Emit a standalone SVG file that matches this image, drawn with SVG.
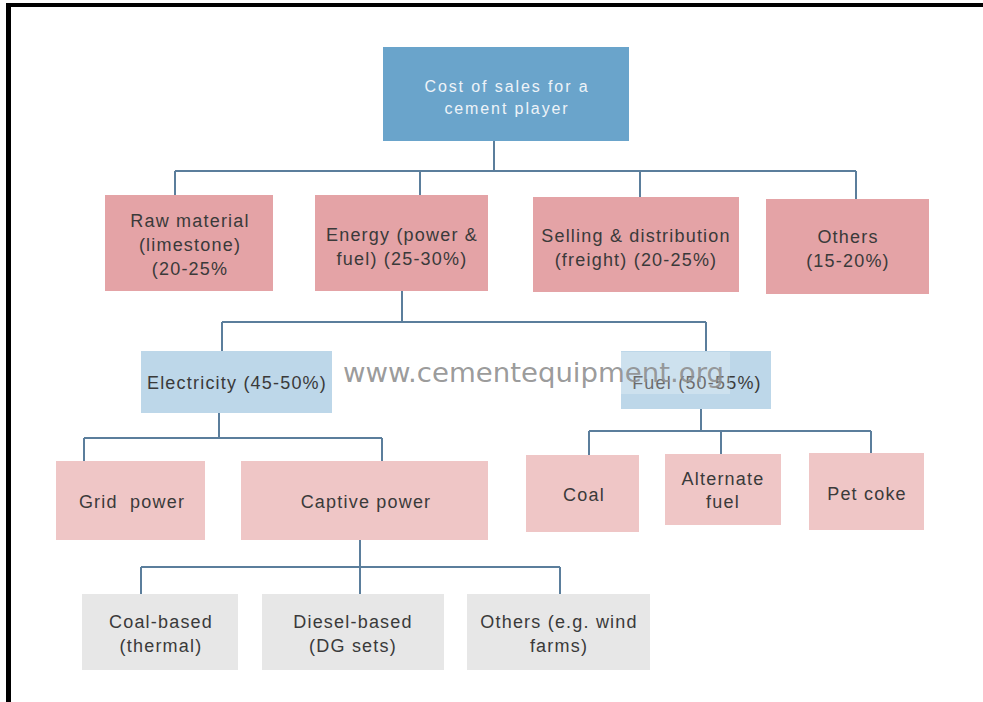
<svg xmlns="http://www.w3.org/2000/svg" width="983" height="702" viewBox="0 0 983 702">
<style>
.t{font-family:"Liberation Sans",Arial,sans-serif;font-size:18px;letter-spacing:1.2px;fill:#3a3a3a;text-anchor:middle}
.w{fill:#eef3f8;font-size:16px;letter-spacing:1.9px}
.l1{fill:#e4a3a6}
.l3{fill:#efc6c6}
.bl{fill:#bdd7e9}
.gr{fill:#e7e7e7}
.c{stroke:#5b7e9c;stroke-width:2;fill:none}
</style>
<rect x="0" y="0" width="983" height="702" fill="#ffffff"/>
<g id="border" fill="#000">
<rect x="6" y="3" width="977" height="4"/>
<rect x="6" y="3" width="5" height="699"/>
</g>
<g id="connectors" class="c">
<path d="M494 141V171M175 171H856M175 171V195M420 171V195M640 171V197M856 171V199"/>
<path d="M402 291V322M222 322H706M222 322V351M706 322V351"/>
<path d="M219 413V438M84 438H382M84 438V461M382 438V461"/>
<path d="M701 409V431M589 431H871M589 431V455M721 431V454M871 431V453"/>
<path d="M360 540V567M141 567H560M141 567V594M360 567V594M560 567V594"/>
</g>
<g id="root"><rect x="383" y="47" width="246" height="94" fill="#6aa4cb"/>
<text class="t w" x="507" y="92">Cost of sales for a</text>
<text class="t w" x="507" y="114">cement player</text></g>
<g id="raw"><rect class="l1" x="105" y="195" width="168" height="96"/>
<text class="t" x="190" y="227">Raw material</text>
<text class="t" x="190" y="251">(limestone)</text>
<text class="t" x="190" y="275">(20-25%</text></g>
<g id="energy"><rect class="l1" x="315" y="195" width="173" height="96"/>
<text class="t" x="402" y="241">Energy (power &amp;</text>
<text class="t" x="402" y="265">fuel) (25-30%)</text></g>
<g id="selling"><rect class="l1" x="533" y="197" width="206" height="95"/>
<text class="t" x="636" y="242">Selling &amp; distribution</text>
<text class="t" x="636" y="266">(freight) (20-25%)</text></g>
<g id="others1"><rect class="l1" x="766" y="199" width="163" height="95"/>
<text class="t" x="848" y="243">Others</text>
<text class="t" x="848" y="267">(15-20%)</text></g>
<g id="electricity"><rect class="bl" x="141" y="351" width="191" height="62"/>
<text class="t" x="237" y="389">Electricity (45-50%)</text></g>
<g id="fuel"><rect class="bl" x="621" y="351" width="150" height="58"/>
<text class="t" x="697" y="389">Fuel (50-55%)</text></g>
<g id="watermark">
<rect x="621" y="352" width="109" height="42" fill="#ffffff" opacity="0.25"/>
<text x="343" y="382" font-family="'DejaVu Sans',Verdana,sans-serif" font-size="27" fill="#8e8e8e" fill-opacity="0.9" textLength="381" lengthAdjust="spacingAndGlyphs">www.cementequipment.org</text>
</g>
<g id="grid"><rect class="l3" x="56" y="461" width="149" height="79"/>
<text class="t" x="132" y="508" xml:space="preserve">Grid  power</text></g>
<g id="captive"><rect class="l3" x="241" y="461" width="247" height="79"/>
<text class="t" x="366" y="508">Captive power</text></g>
<g id="coal"><rect class="l3" x="526" y="455" width="113" height="77"/>
<text class="t" x="584" y="501">Coal</text></g>
<g id="alternate"><rect class="l3" x="665" y="454" width="116" height="71"/>
<text class="t" x="723" y="485">Alternate</text>
<text class="t" x="723" y="508">fuel</text></g>
<g id="petcoke"><rect class="l3" x="809" y="453" width="115" height="77"/>
<text class="t" x="867" y="500">Pet coke</text></g>
<g id="coalbased"><rect class="gr" x="82" y="594" width="156" height="76"/>
<text class="t" x="161" y="628">Coal-based</text>
<text class="t" x="161" y="652">(thermal)</text></g>
<g id="diesel"><rect class="gr" x="262" y="594" width="182" height="76"/>
<text class="t" x="353" y="628">Diesel-based</text>
<text class="t" x="353" y="652">(DG sets)</text></g>
<g id="others2"><rect class="gr" x="467" y="594" width="183" height="76"/>
<text class="t" x="559" y="628">Others (e.g. wind</text>
<text class="t" x="559" y="652">farms)</text></g>
</svg>
